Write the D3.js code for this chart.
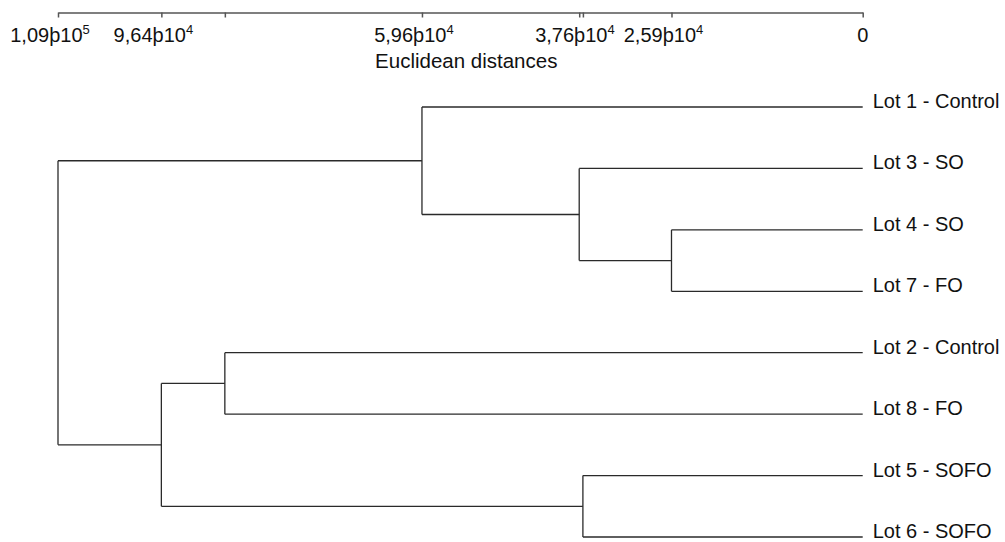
<!DOCTYPE html>
<html>
<head>
<meta charset="utf-8">
<script src="https://cdn.jsdelivr.net/npm/d3@7"></script>
<style>
  html, body { margin: 0; padding: 0; background: #fff; }
  svg { display: block; }
  text { font-family: "Liberation Sans", Arial, Helvetica, sans-serif; fill: #111; }
</style>
</head>
<body>
<svg id="chart" width="1005" height="542"></svg>
<script>
// ---- data ----
const leafLabels = ["Lot 1 - Control", "Lot 3 - SO", "Lot 4 - SO", "Lot 7 - FO",
                    "Lot 2 - Control", "Lot 8 - FO", "Lot 5 - SOFO", "Lot 6 - SOFO"];
const nodeIds = ["C", "B", "A", "E", "F", "D", "root"];
const nodeChildren = [
  ["Lot 4 - SO", "Lot 7 - FO"],
  ["Lot 3 - SO", "C"],
  ["Lot 1 - Control", "B"],
  ["Lot 2 - Control", "Lot 8 - FO"],
  ["Lot 5 - SOFO", "Lot 6 - SOFO"],
  ["E", "F"],
  ["A", "D"]
];
const nodeHeights = [25900, 38400, 59700, 86400, 37900, 95000, 109000];
const tickValues = [109000, 95000, 86400, 59700, 38400, 37900, 25900, 0];
const tickMantissa = ["1,09", "9,64", "", "5,96", "", "3,76", "2,59", "0"];
const tickExponent = ["5", "4", "", "4", "", "4", "4", ""];
const axisTitle = "Euclidean distances";

// ---- layout ----
const svg = d3.select("#chart");
const x = d3.scaleLinear().domain([109000, 0]).range([58, 862.7]);
const y = d3.scalePoint().domain(leafLabels).range([107, 537]);

// build hierarchy
const heightOf = new Map(nodeIds.map((id, i) => [id, nodeHeights[i]]));
const childrenOf = new Map(nodeIds.map((id, i) => [id, nodeChildren[i]]));
function build(id) {
  const ch = childrenOf.get(id);
  return ch ? { id, height: heightOf.get(id), children: ch.map(build) } : { id, height: 0 };
}
const root = d3.hierarchy(build("root"));
root.eachAfter(n => {
  n.px = x(n.data.height);
  n.py = n.children ? d3.mean(n.children, c => c.py) : y(n.data.id);
});

const g = svg.append("g")
  .attr("fill", "none")
  .attr("stroke", "#2a2a2a")
  .attr("stroke-width", 1.3);

// vertical connectors
g.selectAll("line.v").data(root.descendants().filter(n => n.children))
  .join("line").attr("class", "v")
  .attr("x1", n => n.px).attr("x2", n => n.px)
  .attr("y1", n => d3.min(n.children, c => c.py))
  .attr("y2", n => d3.max(n.children, c => c.py));

// horizontal branches
g.selectAll("line.h").data(root.descendants().filter(n => n.parent))
  .join("line").attr("class", "h")
  .attr("x1", n => n.parent.px).attr("x2", n => n.px)
  .attr("y1", n => n.py).attr("y2", n => n.py);

// leaf labels
svg.selectAll("text.leaf").data(root.leaves())
  .join("text").attr("class", "leaf")
  .attr("x", n => n.px + 10)
  .attr("y", n => n.py + 1)
  .attr("font-size", 20)
  .text(n => n.data.id);

// axis
const axis = d3.axisBottom(x).tickValues(tickValues).tickSize(5).tickSizeOuter(0).tickFormat("");
const ax = svg.append("g").attr("transform", "translate(0,12.5)").call(axis);
ax.select(".domain").attr("stroke", "#555").attr("stroke-width", 1.5);
ax.selectAll(".tick line").attr("stroke", "#555").attr("stroke-width", 1.5);

const lbl = svg.selectAll("text.tick").data(tickValues.map((v, i) => ({ v, m: tickMantissa[i], e: tickExponent[i] })).filter(d => d.m))
  .join("text").attr("class", "tick")
  .attr("x", d => x(d.v) + (d.e ? -8 : 0))
  .attr("y", 41.5)
  .attr("text-anchor", "middle")
  .attr("font-size", 20);
lbl.append("tspan").text(d => d.e ? d.m + "þ10" : d.m);
lbl.filter(d => d.e).append("tspan")
  .attr("font-size", 13).attr("dy", -7.5)
  .text(d => d.e);

svg.append("text")
  .attr("x", x(53700))
  .attr("y", 68)
  .attr("text-anchor", "middle")
  .attr("font-size", 20.5)
  .text(axisTitle);
</script>
</body>
</html>
